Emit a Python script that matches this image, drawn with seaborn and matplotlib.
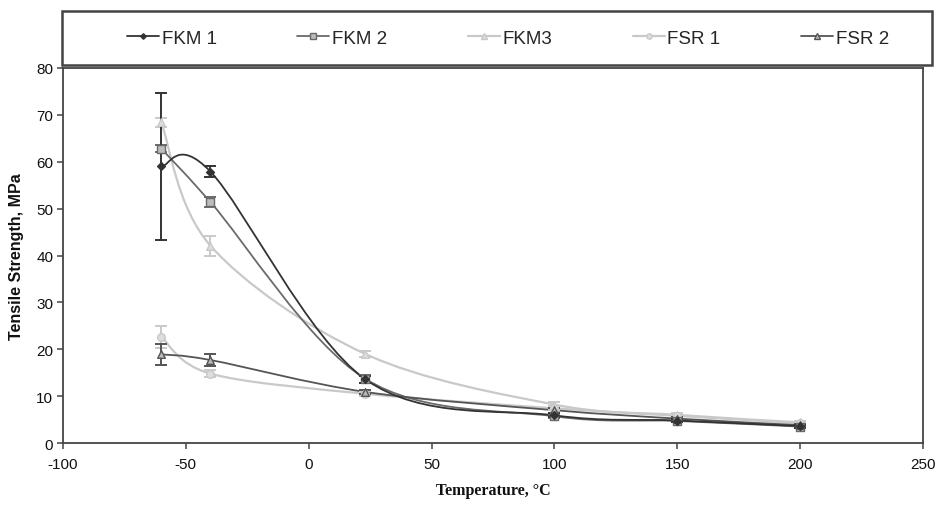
import numpy as np
import pandas as pd
import matplotlib
matplotlib.use("Agg")
import matplotlib.pyplot as plt
from matplotlib.path import Path
from matplotlib.patches import PathPatch, Rectangle
from matplotlib.lines import Line2D
import seaborn as sns

# ---------------- data ----------------
temperature = [-60, -40, 23, 100, 150, 200]
series_names = ["FKM 1", "FKM 2", "FKM3", "FSR 1", "FSR 2"]

fkm1 = [59.0, 57.9, 13.6, 5.9, 4.8, 3.6]
fkm2 = [62.8, 51.4, 13.7, 5.7, 4.7, 3.5]
fkm3 = [68.4, 42.1, 19.0, 8.2, 6.0, 4.4]
fsr1 = [22.6, 14.8, 10.5, 7.4, 5.8, 4.2]
fsr2 = [18.9, 17.7, 10.9, 7.0, 5.2, 3.8]

fkm1_err = [15.6, 1.2, 0.8, 0.4, 0.3, 0.3]
fkm2_err = [0.8, 1.0, 0.9, 0.4, 0.3, 0.3]
fkm3_err = [1.0, 2.1, 0.6, 0.5, 0.4, 0.3]
fsr1_err = [2.3, 0.8, 0.5, 0.4, 0.4, 0.3]
fsr2_err = [2.2, 1.2, 0.5, 0.5, 0.4, 0.3]

x_ticks = [-100, -50, 0, 50, 100, 150, 200, 250]
y_ticks = [0, 10, 20, 30, 40, 50, 60, 70, 80]

values = [fkm1, fkm2, fkm3, fsr1, fsr2]
errors = [fkm1_err, fkm2_err, fkm3_err, fsr1_err, fsr2_err]

df = pd.DataFrame({
    "Temperature": np.tile(temperature, len(series_names)),
    "Strength": np.concatenate(values),
    "Err": np.concatenate(errors),
    "Series": np.repeat(series_names, len(temperature)),
})

# ---------------- styles ----------------
styles = {
    "FKM 1": dict(color="#333333", marker="D", ms=4.0, mfc="#333333", mec="#333333", lw=1.3),
    "FKM 2": dict(color="#6a6a6a", marker="s", ms=5.5, mfc="#bdbdbd", mec="#6a6a6a", lw=1.3),
    "FKM3": dict(color="#c9c9c9", marker="^", ms=5.5, mfc="#dddddd", mec="#c9c9c9", lw=1.6),
    "FSR 1": dict(color="#c9c9c9", marker="o", ms=5.5, mfc="#dddddd", mec="#c9c9c9", lw=1.6),
    "FSR 2": dict(color="#555555", marker="^", ms=5.5, mfc="#bbbbbb", mec="#555555", lw=1.3),
}

sns.set_theme(style="white")
plt.rcParams["font.family"] = ["Liberation Sans", "DejaVu Sans"]
plt.rcParams["axes.unicode_minus"] = False

fig = plt.figure(figsize=(9.41, 5.06), dpi=100)
ax = fig.add_axes([63 / 941, 1 - 444 / 506, 860 / 941, 375 / 506])


def smooth_path(xs, ys):
    """Excel-style smoothed line: cubic Bezier segments through the data points."""
    P = np.column_stack([xs, ys]).astype(float)
    n = len(P)
    verts = [tuple(P[0])]
    codes = [Path.MOVETO]
    for i in range(n - 1):
        p_prev = P[i - 1] if i > 0 else P[i]
        p_next2 = P[i + 2] if i + 2 < n else P[i + 1]
        c1 = P[i] + (P[i + 1] - p_prev) / 6.0
        c2 = P[i + 1] - (p_next2 - P[i]) / 6.0
        verts += [tuple(c1), tuple(c2), tuple(P[i + 1])]
        codes += [Path.CURVE4] * 3
    return Path(verts, codes)


draw_order = ["FKM3", "FSR 1", "FKM 2", "FSR 2", "FKM 1"]
for name in draw_order:
    sub = df[df["Series"] == name]
    st = styles[name]
    patch = PathPatch(smooth_path(sub["Temperature"].values, sub["Strength"].values),
                      facecolor="none", edgecolor=st["color"], lw=st["lw"], zorder=2)
    ax.add_patch(patch)
    ax.errorbar(sub["Temperature"], sub["Strength"], yerr=sub["Err"], fmt="none",
                ecolor=st["color"], elinewidth=1.4, capsize=4, capthick=1.4, zorder=3)
    sns.scatterplot(data=sub, x="Temperature", y="Strength", ax=ax, marker=st["marker"],
                    s=st["ms"] ** 2, color=st["mfc"], edgecolor=st["mec"], linewidth=1.0,
                    zorder=4, legend=False)

ax.set_xlim(-100, 250)
ax.set_ylim(0, 80)
ax.set_xticks(x_ticks)
ax.set_yticks(y_ticks)
ax.tick_params(axis="both", direction="out", length=4, width=1.1, color="#444444",
               labelsize=11, labelcolor="#111111", pad=3)
ax.tick_params(axis="x", pad=6)
ax.tick_params(bottom=True, left=True)
for sp in ax.spines.values():
    sp.set_visible(True)
    sp.set_color("#444444")
    sp.set_linewidth(1.3)

ax.set_xlabel("Temperature, °C", family=["Liberation Serif", "DejaVu Serif"],
              fontweight="bold", fontsize=11.5, labelpad=8, color="#111111")
ax.set_ylabel("Tensile Strength, MPa", fontweight="bold", fontsize=11.5,
              labelpad=9, color="#111111")
ax.grid(False)

# legend box above the plot
fig.patches.append(Rectangle((62 / 941, 1 - 66 / 506), 870 / 941, 54 / 506,
                             transform=fig.transFigure, facecolor="white",
                             edgecolor="#444444", lw=1.8, zorder=0))
handles = []
for name in series_names:
    st = styles[name]
    handles.append(Line2D([0], [0], color=st["color"], lw=st["lw"], marker=st["marker"],
                          markersize=st["ms"] * 0.7, markerfacecolor=st["mfc"],
                          markeredgecolor=st["mec"]))
fig.legend(handles, series_names, loc="center", ncol=5,
           bbox_to_anchor=(508 / 941, 1 - 39 / 506), frameon=False, fontsize=13.5,
           handlelength=1.7, handletextpad=0.15, columnspacing=4.3)

fig.savefig("out.png", dpi=100)
